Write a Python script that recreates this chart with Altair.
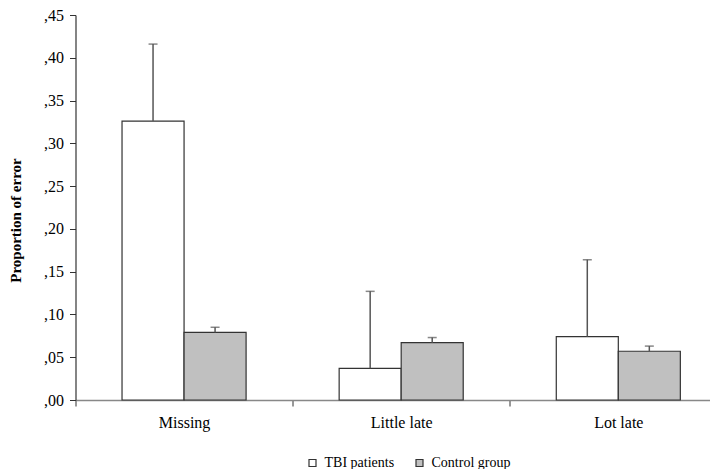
import altair as alt
import pandas as pd

categories = ["Missing", "Little late", "Lot late"]
groups = ["TBI patients", "Control group"]
tbi_mean = [0.326, 0.037, 0.074]
tbi_upper = [0.416, 0.127, 0.164]
ctrl_mean = [0.079, 0.067, 0.057]
ctrl_upper = [0.085, 0.073, 0.063]
y_ticks = [0.0, 0.05, 0.10, 0.15, 0.20, 0.25, 0.30, 0.35, 0.40, 0.45]

rows = []
for i, c in enumerate(categories):
    rows.append({"category": c, "group": groups[0], "idx": i, "side": -1,
                 "mean": tbi_mean[i], "upper": tbi_upper[i]})
    rows.append({"category": c, "group": groups[1], "idx": i, "side": 0,
                 "mean": ctrl_mean[i], "upper": ctrl_upper[i]})
df = pd.DataFrame(rows)

BW = 0.2857
label_expr = " : ".join(
    [f"datum.value == {i} ? '{c}'" for i, c in enumerate(categories)]
) + " : ''"

xscale = alt.Scale(domain=[-0.5, 2.42], nice=False, zero=False)
yscale = alt.Scale(domain=[0, 0.45], nice=False)
xaxis = alt.Axis(
    values=[-0.5, 0, 0.5, 1, 1.5, 2],
    labelExpr=label_expr,
    title=None,
    grid=False,
    labelFlush=False,
    labelOverlap=False,
    labelFontSize=16,
    labelPadding=8,
    tickSize=6,
    tickColor="#333",
    tickOpacity=alt.condition("datum.value % 1 == 0", alt.value(0), alt.value(1)),
    domainColor="#888",
    domainWidth=1.5,
)
yaxis = alt.Axis(
    values=y_ticks,
    labelExpr="replace(format(datum.value, '.2f'), '0.', ',')",
    title="Proportion of error",
    titleFontWeight="bold",
    titleFontSize=15,
    titleX=-52,
    titleY=205,
    titleColor="black",
    grid=False,
    labelFontSize=16,
    labelPadding=6,
    tickSize=6,
    tickColor="#333",
    domainColor="#333",
    domainWidth=1.2,
)

base = alt.Chart(df).transform_calculate(
    x0=f"datum.idx + datum.side * {BW}",
).transform_calculate(
    x1=f"datum.x0 + {BW}",
    xc=f"datum.x0 + {BW / 2}",
)

bars = base.mark_bar(stroke="#333", strokeWidth=1.2).encode(
    x=alt.X("x0:Q", scale=xscale, axis=xaxis),
    x2="x1:Q",
    y=alt.Y("mean:Q", scale=yscale, axis=yaxis),
    y2=alt.Y2(datum=0),
    fill=alt.Color(
        "group:N",
        scale=alt.Scale(domain=groups, range=["white", "#c0c0c0"]),
        sort=groups,
        legend=alt.Legend(
            title=None,
            orient="none",
            direction="horizontal",
            legendX=230,
            legendY=441,
            symbolType="square",
            symbolSize=49,
            symbolStrokeColor="#333",
            symbolStrokeWidth=1.2,
            labelFontSize=14,
            labelOffset=5,
            columnPadding=18,
        ),
    ),
)

err = base.mark_rule(color="#555", strokeWidth=1.5).encode(
    x=alt.X("xc:Q", scale=xscale),
    y=alt.Y("mean:Q", scale=yscale),
    y2="upper:Q",
)

caps = base.mark_tick(color="#555", orient="horizontal", size=9, thickness=1.5).encode(
    x=alt.X("xc:Q", scale=xscale),
    y=alt.Y("upper:Q", scale=yscale),
)

chart = alt.layer(bars, err, caps).properties(
    width=634,
    height=385,
    autosize=alt.AutoSizeParams(type="none"),
    padding={"left": 67.5, "top": 7, "right": 0, "bottom": 69},
).configure(
    font="Liberation Serif",
).configure_view(
    stroke=None,
).configure_axis(
    labelColor="black",
    labelFont="Liberation Serif",
    titleFont="Liberation Serif",
).configure_legend(
    labelColor="black",
    labelFont="Liberation Serif",
)

chart.save("out.html", embed_options={"renderer": "svg", "actions": False})
